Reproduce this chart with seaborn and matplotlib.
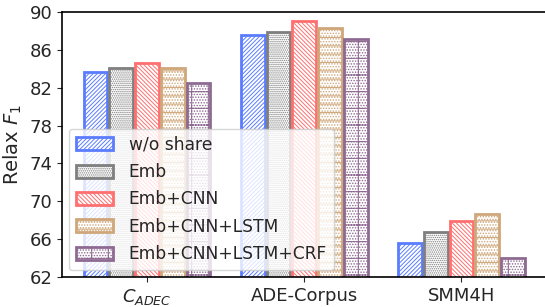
import matplotlib
matplotlib.use('Agg')
import matplotlib.pyplot as plt
import pandas as pd
import seaborn as sns

datasets = ['$C_{ADEC}$', 'ADE-Corpus', 'SMM4H']
models = ['w/o share', 'Emb', 'Emb+CNN', 'Emb+CNN+LSTM', 'Emb+CNN+LSTM+CRF']
wo_share = [83.7, 87.6, 65.6]
emb = [84.1, 87.9, 66.7]
emb_cnn = [84.6, 89.0, 67.9]
emb_cnn_lstm = [84.1, 88.3, 68.6]
emb_cnn_lstm_crf = [82.5, 87.1, 64.0]

colors = ['#5b7cff', '#7f7f7f', '#ff6f6f', '#cfa77a', '#8e6a92']
hatches = ['////////', '........', '\\\\\\\\\\\\\\\\', '--......', '+......']

rows = []
for model, vals in zip(models, [wo_share, emb, emb_cnn, emb_cnn_lstm, emb_cnn_lstm_crf]):
  for ds, v in zip(datasets, vals):
    rows.append({'dataset': ds, 'model': model, 'f1': v})
df = pd.DataFrame(rows)

sns.set_style('ticks')
plt.rcParams['font.family'] = ['DejaVu Sans']
plt.rcParams['hatch.linewidth'] = 0.7

fig = plt.figure(figsize=(5.45, 3.07), dpi=100)
ax = fig.add_axes([0.114, 0.098, 0.9, 0.863])

sns.barplot(data=df, x='dataset', y='f1', hue='model', hue_order=models,
            width=0.82, gap=0.08, ax=ax, errorbar=None)

handles = []
for cont, col, h in zip(ax.containers, colors, hatches):
  for p in cont.patches:
    p.set_facecolor('white')
    p.set_edgecolor(col)
    p.set_hatch(h)
    p.set_linewidth(2)
  handles.append(cont.patches[0])

if ax.get_legend() is not None:
  ax.get_legend().remove()
ax.legend(handles=handles, labels=models, loc='lower left', fontsize=12.3,
          handlelength=2.2, handleheight=0.8, borderaxespad=0.4,
          labelspacing=0.55, handletextpad=0.9)

ax.set_ylim(62, 90)
ax.set_yticks(range(62, 91, 4))
ax.set_xlim(-0.54, 2.58)
ax.set_xlabel('')
ax.set_ylabel('Relax $F_1$', fontsize=14)
ax.tick_params(axis='both', labelsize=13)
ax.spines['right'].set_visible(False)
for s in ax.spines.values():
  s.set_linewidth(1.2)
  s.set_color('black')

fig.savefig('out.png', dpi=100)
